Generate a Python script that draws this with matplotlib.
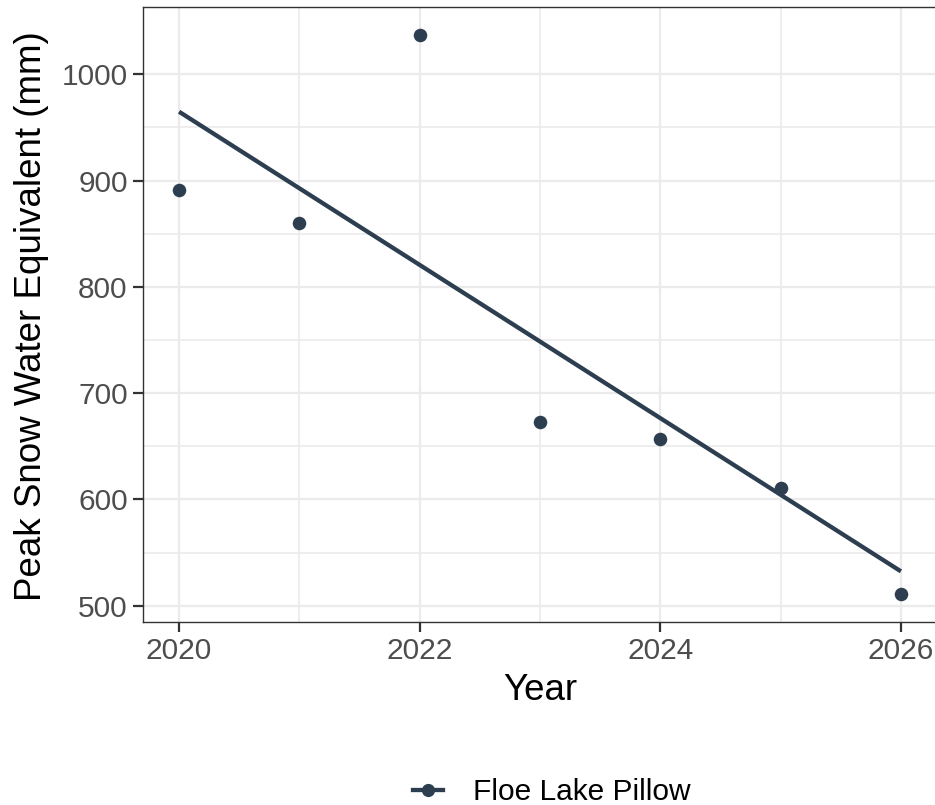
import numpy as np
import matplotlib
matplotlib.use("Agg")
import matplotlib.pyplot as plt
from matplotlib.lines import Line2D

plt.rcParams['font.family'] = ['Liberation Sans', 'DejaVu Sans']

# Peak snow water equivalent at the Floe Lake snow pillow
years = [2020, 2021, 2022, 2023, 2024, 2025, 2026]
peak_swe = [891, 860, 1037, 673, 657, 611, 511]
series_name = "Floe Lake Pillow"
x_ticks = [2020, 2022, 2024, 2026]
y_ticks = [500, 600, 700, 800, 900, 1000]

color = "#2C3E50"
W, H = 935, 805
fig = plt.figure(figsize=(W / 100, H / 100), dpi=100)
ax = fig.add_axes([143 / W, (H - 622) / H, (937 - 143) / W, (622 - 7) / H])

x = np.array(years, dtype=float)
y = np.array(peak_swe, dtype=float)

# linear trend
slope, intercept = np.polyfit(x, y, 1)
xf = np.array([x.min(), x.max()])
ax.plot(xf, slope * xf + intercept, color=color, lw=3.1, zorder=3,
        solid_capstyle='butt')
ax.scatter(x, y, s=95, color=color, zorder=4, linewidths=0)

# ggplot-style 5% expansion
xr = x.max() - x.min()
ax.set_xlim(x.min() - 0.05 * xr, x.max() + 0.05 * xr)
yr = y.max() - y.min()
ax.set_ylim(y.min() - 0.05 * yr, y.max() + 0.05 * yr)

ax.set_xticks(x_ticks)
ax.set_yticks(y_ticks)
ax.set_xticks([2021, 2023, 2025], minor=True)
ax.set_yticks([550, 650, 750, 850, 950], minor=True)
ax.set_xticklabels([str(v) for v in x_ticks])
ax.set_yticklabels([str(v) for v in y_ticks])

ax.grid(which='major', color='#EBEBEB', lw=1.6, zorder=0)
ax.grid(which='minor', color='#EBEBEB', lw=1.2, zorder=0)
ax.set_axisbelow(True)

for side in ['left', 'bottom', 'top']:
    ax.spines[side].set_color('#333333')
    ax.spines[side].set_linewidth(1.0)
ax.spines['right'].set_visible(False)

ax.tick_params(which='major', length=7, width=1.6, color='#333333',
               labelsize=21.5, labelcolor='#4D4D4D', pad=4)
ax.tick_params(which='minor', length=0)

fig.text(540 / W, 1 - 690 / H, "Year", ha='center', va='center',
         fontsize=26.5, color='black')
fig.text(32 / W, 1 - 316 / H, "Peak Snow Water Equivalent (mm)",
         ha='center', va='center', rotation=90, fontsize=26.5, color='black')

handle = Line2D([], [], color=color, lw=3.1, marker='o', markersize=9.5,
                markeredgewidth=0)
fig.legend([handle], [series_name], loc='center',
           bbox_to_anchor=(552 / W, 1 - 792 / H), frameon=False,
           fontsize=21.5, handlelength=1.0, handletextpad=1.0)

fig.savefig("out.png", dpi=100)
